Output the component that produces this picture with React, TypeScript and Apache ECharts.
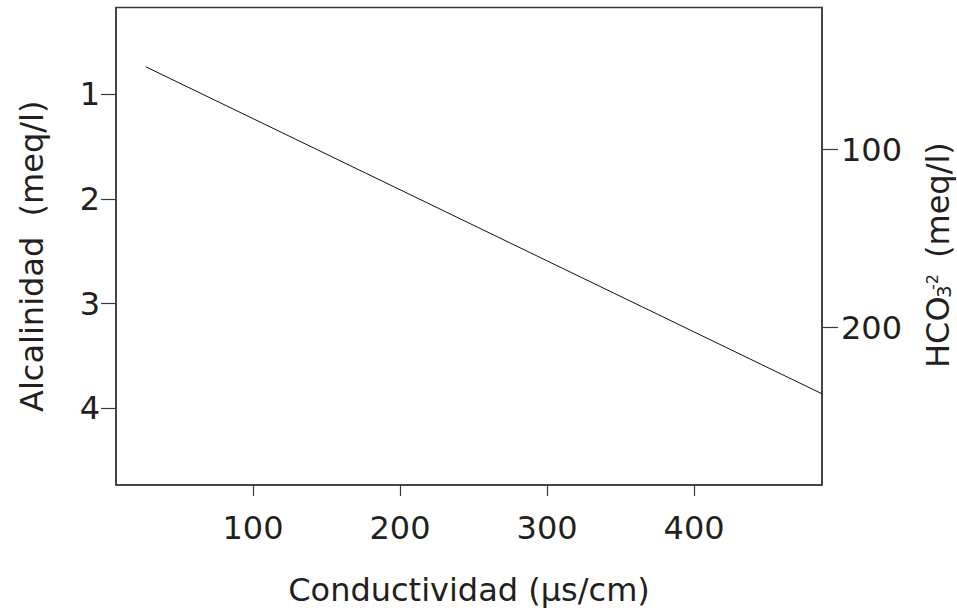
import React, { useEffect, useRef } from "react";
import * as echarts from "echarts";

// Data
const conductividad = [27, 487]; // µs/cm
const alcalinidad = [0.74, 3.86]; // meq/l
const xTickValues = [100, 200, 300, 400];
const leftTickValues = [1, 2, 3, 4];
const rightTickValues = [100, 200];

const FONT = "DejaVu Sans";
const TEXT = "#231f20";
const AXIS = "#3a3a3a";

export default function App() {
  const ref = useRef<HTMLDivElement>(null);

  useEffect(() => {
    const chart = echarts.init(ref.current!, null, { renderer: "svg" });
    const labelStyle = { fontFamily: FONT, fontSize: 32, color: TEXT };
    chart.setOption({
      animation: false,
      backgroundColor: "#ffffff",
      grid: {
        left: 116,
        right: 135,
        top: 7.5,
        bottom: 121,
        show: true,
        borderColor: AXIS,
        borderWidth: 1.5,
        backgroundColor: "transparent",
      },
      xAxis: {
        type: "value",
        min: 6.8,
        max: 487,
        position: "bottom",
        axisLine: { show: true, lineStyle: { color: AXIS, width: 1.5 } },
        axisTick: {
          show: true,
          length: 11,
          customValues: xTickValues,
          lineStyle: { color: AXIS, width: 1.2 },
        },
        axisLabel: { customValues: xTickValues, margin: 27, ...labelStyle },
        splitLine: { show: false },
        name: "Conductividad (μs/cm)",
        nameLocation: "middle",
        nameGap: 89,
        nameTextStyle: { ...labelStyle },
      },
      yAxis: [
        {
          type: "value",
          position: "left",
          inverse: true,
          min: 0.175,
          max: 4.73,
          axisLine: { show: true, lineStyle: { color: AXIS, width: 1.5 } },
          axisTick: {
            show: true,
            length: 15,
            customValues: leftTickValues,
            lineStyle: { color: AXIS, width: 1.2 },
          },
          axisLabel: { customValues: leftTickValues, margin: 16, ...labelStyle },
          splitLine: { show: false },
          name: "Alcalinidad  (meq/l)",
          nameLocation: "middle",
          nameGap: 68,
          nameTextStyle: { ...labelStyle, padding: [0, 20, 0, 0] },
        },
        {
          type: "value",
          position: "right",
          inverse: true,
          min: 20.3,
          max: 288.3,
          axisLine: { show: true, lineStyle: { color: AXIS, width: 1.5 } },
          axisTick: {
            show: true,
            length: 16,
            customValues: rightTickValues,
            lineStyle: { color: AXIS, width: 1.2 },
          },
          axisLabel: { customValues: rightTickValues, margin: 19, ...labelStyle },
          splitLine: { show: false },
        },
      ],
      series: [
        {
          type: "line",
          xAxisIndex: 0,
          yAxisIndex: 0,
          data: conductividad.map((x, i) => [x, alcalinidad[i]]),
          symbol: "none",
          showSymbol: false,
          lineStyle: { color: "#111111", width: 1 },
        },
      ],
      graphic: [
        {
          type: "group",
          x: 950,
          y: 365,
          rotation: Math.PI / 2,
          children: [
            {
              type: "text",
              x: -3,
              y: -12,
              style: { text: "HCO", font: `32px "${FONT}"`, fill: TEXT, align: "left", verticalAlign: "middle" },
            },
            {
              type: "text",
              x: 67,
              y: -6,
              style: { text: "3", font: `20px "${FONT}"`, fill: TEXT, align: "left", verticalAlign: "middle" },
            },
            {
              type: "text",
              x: 75,
              y: -18,
              style: { text: "-2", font: `16px "${FONT}"`, fill: TEXT, align: "left", verticalAlign: "middle" },
            },
            {
              type: "text",
              x: 107,
              y: -12,
              style: { text: "(meq/l)", font: `32px "${FONT}"`, fill: TEXT, align: "left", verticalAlign: "middle" },
            },
          ],
        },
      ],
    });
    return () => chart.dispose();
  }, []);

  return (
    <div
      ref={ref}
      style={{ position: "fixed", left: 0, top: 0, width: 957, height: 611 }}
    />
  );
}
